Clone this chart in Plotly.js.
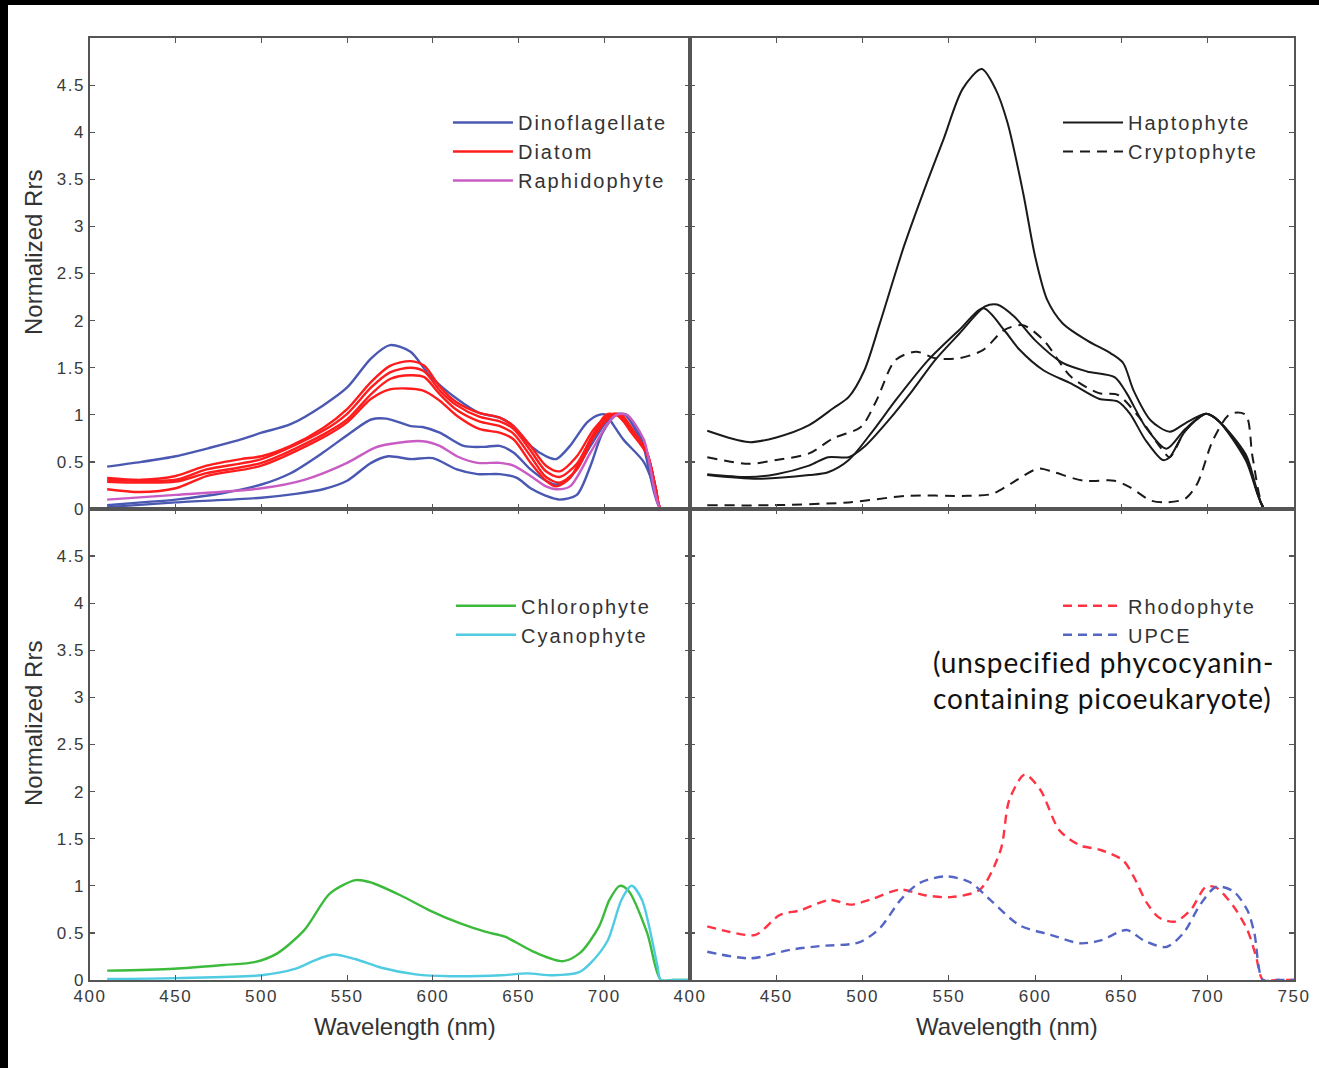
<!DOCTYPE html>
<html>
<head>
<meta charset="utf-8">
<script src="https://cdn.plot.ly/plotly-3.0.1.min.js"></script>
<style>
  html, body { margin: 0; padding: 0; background: #fff; }
  #chart { width: 1319px; height: 1068px; position: absolute; left: 0; top: 0; }
  .bar { position: absolute; background: #000; z-index: 10; }
  #chart .xtick text, #chart .ytick text, #chart .x2tick text, #chart .x3tick text, #chart .x4tick text,
  #chart .y2tick text, #chart .y3tick text, #chart .y4tick text { letter-spacing: 1.5px; }
  #chart g.scrollbox { clip-path: none !important; }
  #chart g.annotation[data-index="0"] text { letter-spacing: 0.9px; }
</style>
</head>
<body>
<div id="chart"></div>
<div class="bar" style="left:0;top:0;width:1319px;height:5px;"></div>
<div class="bar" style="left:0;top:0;width:8px;height:1068px;"></div>
<script>
// ---------- Top-left: Dinoflagellate / Diatom / Raphidophyte ----------
const dino1Wl  = [410,430,450,470,490,500,517,536,550,564,575,587,598,614,627,639,647,657,666,672,680,690,697,701,705,711,723,729,733,740,750];
const dino1Rrs = [0.45,0.50,0.56,0.65,0.75,0.81,0.90,1.10,1.29,1.60,1.74,1.67,1.42,1.17,1.02,0.97,0.88,0.67,0.56,0.53,0.67,0.92,1.00,1.00,0.90,0.74,0.50,0.24,0,0,0];
const dino2Wl  = [410,430,450,478,500,517,536,552,564,573,587,594,604,618,630,639,647,657,666,672,680,692,701,707,712,719,727,733,740,750];
const dino2Rrs = [0.04,0.07,0.10,0.17,0.26,0.38,0.60,0.81,0.95,0.96,0.88,0.87,0.81,0.67,0.66,0.67,0.60,0.42,0.30,0.26,0.33,0.67,0.92,1.00,1.00,0.81,0.46,0,0,0];
const dino3Wl  = [410,450,500,520,536,550,564,574,587,600,614,626,639,649,657,666,674,684,692,699,707,713,721,733,740,750];
const dino3Rrs = [0.02,0.07,0.12,0.16,0.21,0.30,0.49,0.56,0.53,0.54,0.42,0.37,0.37,0.33,0.22,0.14,0.10,0.15,0.46,0.81,1.00,1.00,0.78,0,0,0];

const diat1Wl  = [410,430,450,468,488,500,517,536,550,564,575,587,595,604,614,627,639,647,657,666,674,684,694,703,708,715,725,730,733,740,750];
const diat1Rrs = [0.33,0.31,0.35,0.46,0.53,0.56,0.67,0.86,1.06,1.35,1.52,1.57,1.52,1.30,1.13,1.02,0.97,0.88,0.67,0.46,0.40,0.56,0.85,1.00,1.00,0.83,0.58,0.22,0,0,0];
const diat2Wl  = [410,430,450,468,500,536,550,564,575,587,595,604,614,627,639,647,657,666,674,684,694,704,709,716,725,730,733,740,750];
const diat2Rrs = [0.31,0.30,0.31,0.42,0.53,0.83,1.01,1.29,1.45,1.50,1.46,1.26,1.10,0.98,0.93,0.85,0.62,0.40,0.34,0.48,0.80,1.00,1.00,0.83,0.58,0.22,0,0,0];
const diat3Wl  = [410,430,450,468,500,536,550,564,575,587,595,604,614,627,639,647,657,666,674,684,694,705,710,717,725,730,733,740,750];
const diat3Rrs = [0.29,0.28,0.29,0.38,0.49,0.79,0.95,1.22,1.38,1.42,1.40,1.22,1.05,0.93,0.88,0.80,0.56,0.34,0.28,0.42,0.77,1.00,1.00,0.83,0.60,0.22,0,0,0];
const diat4Wl  = [410,429,450,468,500,536,550,564,575,594,604,614,627,639,647,657,666,672,680,692,701,707,715,725,730,733,740,750];
const diat4Rrs = [0.21,0.18,0.22,0.35,0.46,0.76,0.92,1.17,1.27,1.26,1.15,0.99,0.85,0.81,0.74,0.49,0.30,0.24,0.33,0.74,1.00,1.00,0.85,0.58,0.22,0,0,0];

const raphWl   = [410,450,500,525,550,566,575,594,604,614,626,639,647,657,666,672,680,692,701,707,713,723,733,740,750];
const raphRrs  = [0.10,0.15,0.22,0.31,0.49,0.65,0.69,0.72,0.67,0.56,0.49,0.49,0.46,0.35,0.24,0.21,0.24,0.60,0.88,1.00,1.00,0.74,0,0,0];

// ---------- Top-right: Haptophyte / Cryptophyte ----------
const hapt1Wl  = [410,434,450,469,483,492,501,510,524,538,547,558,569,577,584,593,600,607,616,630,644,651,657,667,678,687,699,706,722,733,740,750];
const hapt1Rrs = [0.83,0.71,0.76,0.89,1.07,1.19,1.47,1.97,2.79,3.50,3.93,4.46,4.67,4.46,4.10,3.36,2.68,2.22,1.97,1.79,1.65,1.55,1.26,0.94,0.82,0.91,1.01,0.94,0.55,0,0,0];
const hapt2Wl  = [410,434,450,469,480,492,501,515,529,542,556,571,578,588,600,616,630,646,653,664,676,687,699,706,722,733,740,750];
const hapt2Rrs = [0.37,0.34,0.37,0.46,0.55,0.55,0.66,0.94,1.26,1.58,1.86,2.15,2.17,2.04,1.79,1.55,1.46,1.40,1.23,0.87,0.64,0.85,1.01,0.94,0.52,0,0,0];
const hapt3Wl  = [410,439,469,480,492,506,519,538,556,570,582,591,605,621,637,648,655,664,674,678,687,699,706,722,733,740,750];
const hapt3Rrs = [0.36,0.32,0.36,0.39,0.52,0.83,1.15,1.58,1.90,2.13,1.90,1.69,1.47,1.33,1.17,1.14,1.01,0.73,0.52,0.55,0.83,1.01,0.94,0.58,0,0,0];
const crypt1Wl  = [410,434,450,469,483,499,508,519,531,542,556,570,582,593,605,621,637,648,660,674,678,687,699,706,722,733,740,750];
const crypt1Rrs = [0.55,0.48,0.52,0.59,0.75,0.87,1.15,1.58,1.67,1.60,1.60,1.69,1.90,1.95,1.79,1.40,1.23,1.21,0.98,0.62,0.55,0.83,1.01,0.94,0.55,0,0,0];
const crypt2Wl  = [410,446,492,526,561,575,586,602,611,628,646,655,667,676,687,694,703,713,722,726,733,740,750];
const crypt2Rrs = [0.04,0.04,0.07,0.14,0.14,0.16,0.27,0.43,0.39,0.30,0.30,0.23,0.09,0.07,0.11,0.27,0.73,1.01,1.00,0.55,0,0,0];

// ---------- Bottom-left: Chlorophyte / Cyanophyte ----------
const chloWl   = [410,449,478,496,509,525,540,555,563,581,598,616,631,642,660,676,686,697,703,709,714,725,733,740,750];
const chloRrs  = [0.10,0.12,0.16,0.19,0.28,0.53,0.92,1.06,1.04,0.90,0.74,0.60,0.51,0.46,0.29,0.20,0.29,0.57,0.85,1.00,0.95,0.50,0,0,0];
const cyanWl   = [410,450,500,520,530,542,555,570,590,610,640,655,670,685,692,702,710,716,722,727,731,733,740,750];
const cyanRrs  = [0.01,0.02,0.05,0.12,0.20,0.27,0.22,0.13,0.06,0.04,0.05,0.07,0.05,0.08,0.18,0.42,0.85,1.00,0.85,0.50,0.15,0,0,0];

// ---------- Bottom-right: Rhodophyte / UPCE ----------
const rhodWl   = [410,423,438,452,464,481,493,504,522,536,551,568,580,585,594,603,614,626,638,651,657,665,672,681,690,699,705,715,723,728,732,740,750];
const rhodRrs  = [0.57,0.51,0.48,0.69,0.74,0.85,0.80,0.85,0.96,0.90,0.88,0.96,1.38,1.91,2.18,2.02,1.59,1.43,1.38,1.27,1.10,0.81,0.66,0.62,0.74,0.99,0.98,0.78,0.53,0.25,0,0,0];
const upceWl   = [410,435,458,475,498,510,522,533,548,562,574,591,609,626,638,653,663,676,686,696,705,715,723,727,732,740,750];
const upceRrs  = [0.30,0.23,0.32,0.36,0.40,0.55,0.85,1.03,1.10,1.04,0.85,0.58,0.48,0.39,0.42,0.53,0.42,0.35,0.50,0.81,0.99,0.94,0.74,0.50,0,0,0];

// ---------- Labels / ticks ----------
const legendNames = ['Dinoflagellate','Diatom','Raphidophyte','Haptophyte','Cryptophyte','Chlorophyte','Cyanophyte','Rhodophyte','UPCE'];
const noteText = '(unspecified phycocyanin-<br>containing picoeukaryote)';
const yTickVals = [0,0.5,1,1.5,2,2.5,3,3.5,4,4.5];
const yTickText = ['0','0.5','1','1.5','2','2.5','3','3.5','4','4.5'];
const xTickValsLeft  = [400,450,500,550,600,650,700];
const xTickValsRight = [400,450,500,550,600,650,700,750];
const yTitle = 'Normalized Rrs';
const xTitle = 'Wavelength (nm)';

// ---------- Build ----------
const BLUE = '#4a58b2', RED = '#ff1c1c', PURPLE = '#c95cc4', BLACK = '#1a1a1a',
      GREEN = '#3cba3c', CYAN = '#4fcbe2', RRED = '#ff3344', UBLUE = '#5565c4';

function tr(wl, v, xa, ya, color, name, show, legend, dash, width) {
  return {
    type: 'scatter', mode: 'lines', x: wl, y: v, xaxis: xa, yaxis: ya,
    name: name, showlegend: show, legend: legend, legendgroup: name,
    line: { color: color, width: width || 2.4, shape: 'spline', smoothing: 0.8, dash: dash || 'solid' },
    hoverinfo: 'skip'
  };
}

const traces = [
  tr(dino1Wl, dino1Rrs, 'x', 'y', BLUE, legendNames[0], true, 'legend'),
  tr(dino2Wl, dino2Rrs, 'x', 'y', BLUE, legendNames[0], false, 'legend'),
  tr(dino3Wl, dino3Rrs, 'x', 'y', BLUE, legendNames[0], false, 'legend'),
  tr(diat1Wl, diat1Rrs, 'x', 'y', RED, legendNames[1], true, 'legend'),
  tr(diat2Wl, diat2Rrs, 'x', 'y', RED, legendNames[1], false, 'legend'),
  tr(diat3Wl, diat3Rrs, 'x', 'y', RED, legendNames[1], false, 'legend'),
  tr(diat4Wl, diat4Rrs, 'x', 'y', RED, legendNames[1], false, 'legend'),
  tr(raphWl, raphRrs, 'x', 'y', PURPLE, legendNames[2], true, 'legend'),

  tr(hapt1Wl, hapt1Rrs, 'x2', 'y2', BLACK, legendNames[3], true, 'legend2', 'solid', 2),
  tr(hapt2Wl, hapt2Rrs, 'x2', 'y2', BLACK, legendNames[3], false, 'legend2', 'solid', 2),
  tr(hapt3Wl, hapt3Rrs, 'x2', 'y2', BLACK, legendNames[3], false, 'legend2', 'solid', 2),
  tr(crypt1Wl, crypt1Rrs, 'x2', 'y2', BLACK, legendNames[4], true, 'legend2', '10px,7px', 2),
  tr(crypt2Wl, crypt2Rrs, 'x2', 'y2', BLACK, legendNames[4], false, 'legend2', '10px,7px', 2),

  tr(chloWl, chloRrs, 'x3', 'y3', GREEN, legendNames[5], true, 'legend3'),
  tr(cyanWl, cyanRrs, 'x3', 'y3', CYAN, legendNames[6], true, 'legend3'),

  tr(rhodWl, rhodRrs, 'x4', 'y4', RRED, legendNames[7], true, 'legend4', '9px,6px'),
  tr(upceWl, upceRrs, 'x4', 'y4', UBLUE, legendNames[8], true, 'legend4', '9px,6px')
];

const FONT = 'Liberation Sans, Arial, sans-serif';
const AX = '#555';
const xL = [0, 600/1204], xR = [600/1204, 1];

function xaxis(domain, anchor, showLabels, vals) {
  return {
    domain: domain, anchor: anchor, range: [400, 750], autorange: false,
    showline: true, linecolor: AX, linewidth: 1.6, mirror: 'ticks',
    ticks: 'inside', ticklen: 5, tickwidth: 1.2, tickcolor: AX,
    tickmode: 'array', tickvals: vals, ticktext: vals.map(String),
    showticklabels: showLabels, showgrid: false, zeroline: false,
    tickfont: { family: FONT, size: 17, color: '#3a3a3a' }
  };
}
function yaxis(domain, anchor, showLabels) {
  return {
    domain: domain, anchor: anchor, range: [0, 5], autorange: false,
    showline: true, linecolor: AX, linewidth: 1.6, mirror: 'ticks',
    ticks: 'inside', ticklen: 5, tickwidth: 1.2, tickcolor: AX,
    tickmode: 'array', tickvals: yTickVals, ticktext: yTickText,
    showticklabels: showLabels, showgrid: false, zeroline: false,
    tickfont: { family: FONT, size: 17, color: '#3a3a3a' }
  };
}

function leg(x, y) {
  return {
    x: x, y: y, xanchor: 'left', yanchor: 'top', bgcolor: 'rgba(0,0,0,0)',
    borderwidth: 0, font: { family: FONT, size: 20, color: '#333' }, tracegroupgap: 0,
    itemwidth: 60
  };
}

const titleFont = { family: FONT, size: 24, color: '#333' };
function axTitle(text, x, y, angle) {
  return { xref: 'paper', yref: 'paper', x: x, y: y, xanchor: 'center', yanchor: 'middle',
           text: text, showarrow: false, textangle: angle, font: titleFont };
}

const layout = {
  width: 1319, height: 1068,
  margin: { l: 90, r: 25, t: 38, b: 88 },
  paper_bgcolor: '#fff', plot_bgcolor: '#fff',
  showlegend: true,
  xaxis:  xaxis(xL, 'y',  false, xTickValsRight),
  xaxis2: xaxis(xR, 'y2', false, xTickValsRight),
  xaxis3: xaxis(xL, 'y3', true,  xTickValsLeft),
  xaxis4: xaxis(xR, 'y4', true,  xTickValsRight),
  yaxis:  yaxis([0.5, 1], 'x',  true),
  yaxis2: yaxis([0.5, 1], 'x2', false),
  yaxis3: yaxis([0, 0.5], 'x3', true),
  yaxis4: yaxis([0, 0.5], 'x4', false),
  legend:  leg(0.2973, 0.931),
  legend2: leg(0.804, 0.931),
  legend3: leg(0.2998, 0.418),
  legend4: leg(0.804, 0.418),
  annotations: [
    { xref: 'paper', yref: 'paper', x: 0.6985, y: 0.358, xanchor: 'left', yanchor: 'top',
      text: noteText, showarrow: false, align: 'left',
      font: { family: 'Lato, Carlito, sans-serif', size: 28, color: '#111' } },
    axTitle(xTitle, 0.2616, -0.0495, 0),
    axTitle(xTitle, 0.762, -0.0495, 0),
    axTitle(yTitle, -0.0465, 0.7718, -90),
    axTitle(yTitle, -0.0465, 0.2718, -90)
  ]
};

Plotly.newPlot('chart', traces, layout, { staticPlot: true, displayModeBar: false }).then(function () {
  // widen legend labels slightly, as in the reference
  document.querySelectorAll('#chart text').forEach(function (el) {
    if (legendNames.indexOf(el.textContent) >= 0) { el.style.letterSpacing = '2px'; }
  });
  document.querySelectorAll('#chart g.scrollbox').forEach(function (g) { g.style.clipPath = 'none'; });
});
</script>
</body>
</html>
